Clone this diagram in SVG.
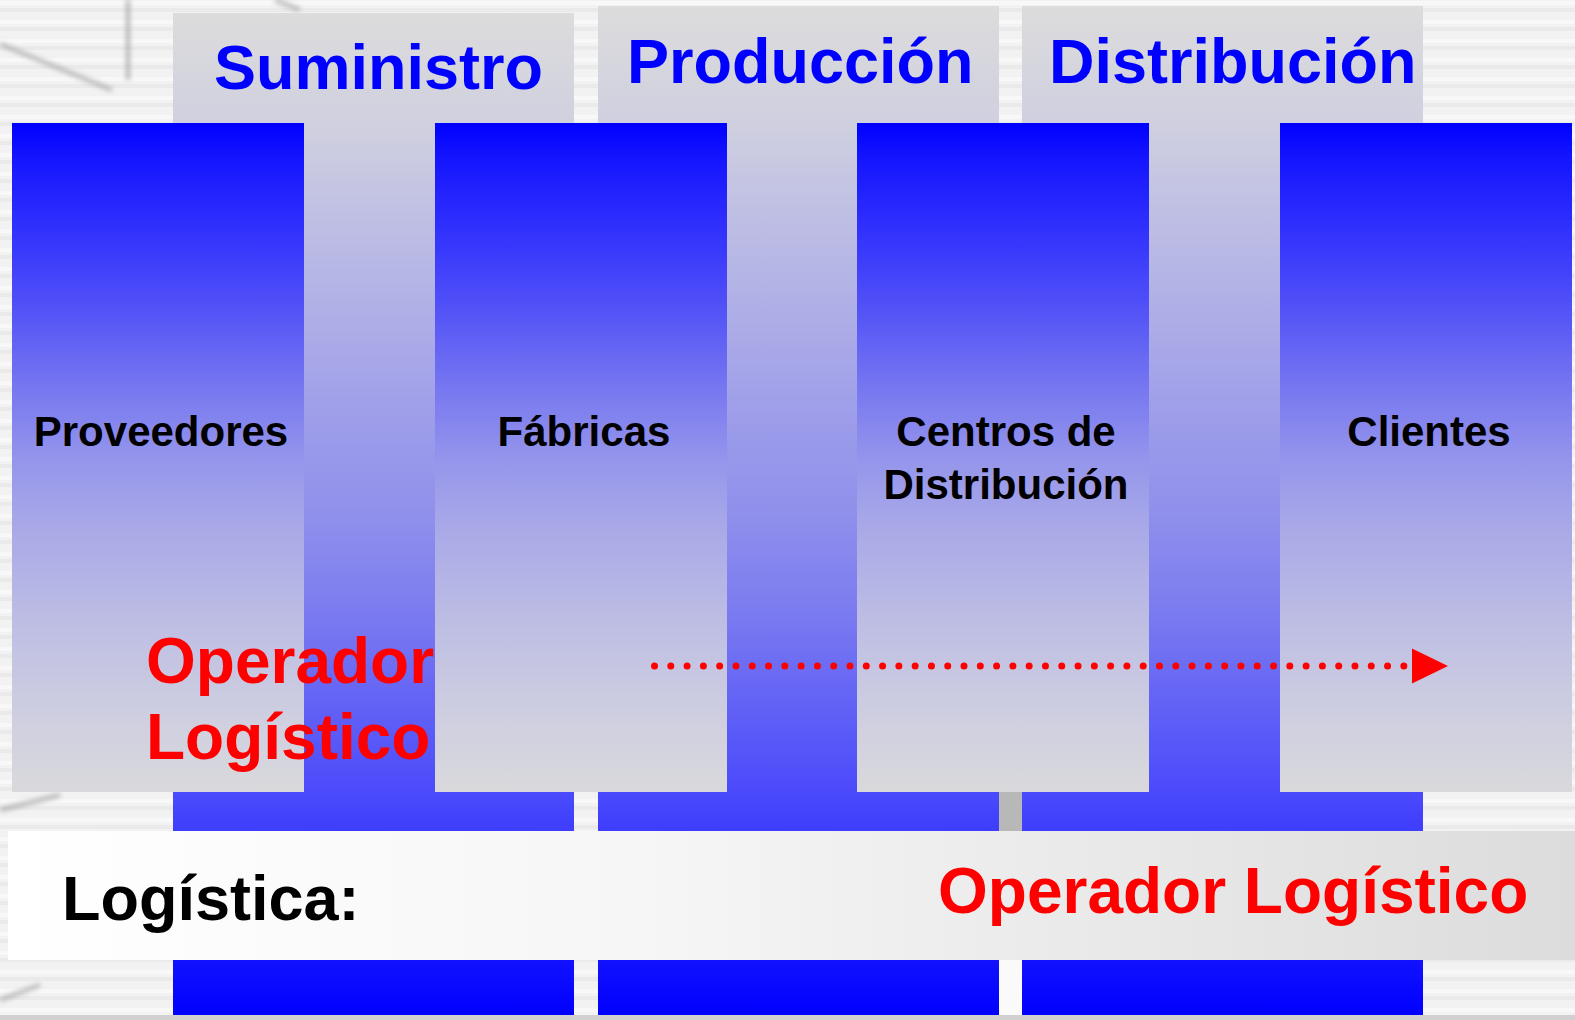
<svg xmlns="http://www.w3.org/2000/svg" width="1575" height="1020" viewBox="0 0 1575 1020">
  <defs>
    <pattern id="stripes" x="0" y="0" width="1575" height="19" patternUnits="userSpaceOnUse">
      <rect width="1575" height="19" fill="#f2f2f2"/>
      <rect y="8" width="1575" height="4" fill="#eaeaea"/>
      <rect y="1" width="1575" height="4" fill="#f8f8f8"/>
    </pattern>
    <filter id="blur" x="-20%" y="-20%" width="140%" height="140%">
      <feGaussianBlur stdDeviation="2.5"/>
    </filter>
    <linearGradient id="gWide" x1="0" y1="0" x2="0" y2="1">
      <stop offset="0" stop-color="#dcdcdc"/>
      <stop offset="0.12" stop-color="#cfcfe0"/>
      <stop offset="0.2" stop-color="#c0c0e4"/>
      <stop offset="0.4" stop-color="#9e9eea"/>
      <stop offset="0.5" stop-color="#9090ec"/>
      <stop offset="0.6" stop-color="#7b7bf0"/>
      <stop offset="0.78" stop-color="#4a4afc"/>
      <stop offset="0.95" stop-color="#1010ff"/>
      <stop offset="1" stop-color="#0000ff"/>
    </linearGradient>
    <linearGradient id="gNarrow" x1="0" y1="0" x2="0" y2="1">
      <stop offset="0" stop-color="#0000ff"/>
      <stop offset="0.05" stop-color="#1414ff"/>
      <stop offset="0.2" stop-color="#3c3cfc"/>
      <stop offset="0.27" stop-color="#5050f8"/>
      <stop offset="0.4" stop-color="#7878f0"/>
      <stop offset="0.5" stop-color="#9494ec"/>
      <stop offset="0.6" stop-color="#a8a8e8"/>
      <stop offset="0.75" stop-color="#bebee4"/>
      <stop offset="0.9" stop-color="#d0d0e0"/>
      <stop offset="1" stop-color="#d9d9dc"/>
    </linearGradient>
    <linearGradient id="gBar" x1="0" y1="0" x2="1" y2="0">
      <stop offset="0" stop-color="#ffffff"/>
      <stop offset="0.4" stop-color="#f6f6f6"/>
      <stop offset="1" stop-color="#dcdcdc"/>
    </linearGradient>
    <marker id="arrowHead" markerUnits="userSpaceOnUse" orient="auto" overflow="visible" refX="0" refY="0" markerWidth="50" markerHeight="40">
      <path d="M8,-17.5 L44,0 L8,17.5 Z" fill="#ff0000"/>
    </marker>
    <style>
      .wide { fill: url(#gWide); }
      .narrow { fill: url(#gNarrow); }
      .head { font-family: "Liberation Sans", Arial, sans-serif; font-weight: bold; font-size: 63px; fill: #0000ff; }
      .lbl { font-family: "Liberation Sans", Arial, sans-serif; font-weight: bold; font-size: 42px; fill: #000000; text-anchor: middle; }
      .red { font-family: "Liberation Sans", Arial, sans-serif; font-weight: bold; font-size: 64px; fill: #ff0000; }
      .blk { font-family: "Liberation Sans", Arial, sans-serif; font-weight: bold; font-size: 63px; fill: #000000; }
    </style>
  </defs>

  <!-- background -->
  <g id="background">
    <rect width="1575" height="1020" fill="url(#stripes)"/>
    <g filter="url(#blur)" stroke="#b0b0b0" stroke-width="4" fill="none">
      <line x1="0" y1="44" x2="112" y2="90"/>
      <line x1="128" y1="0" x2="128" y2="80"/>
      <line x1="275" y1="0" x2="300" y2="10"/>
      <line x1="0" y1="810" x2="60" y2="795"/>
      <line x1="0" y1="1000" x2="40" y2="985"/>
    </g>
    <rect x="999" y="792" width="23" height="39" fill="#b8b8b8"/>
    <rect x="999" y="960" width="23" height="55" fill="#fafafa"/>
    <rect x="0" y="1015" width="1575" height="5" fill="#d0d0d0"/>
  </g>

  <!-- stage columns -->
  <g id="suministro">
    <rect class="wide" x="173" y="13" width="401" height="1002"/>
    <text class="head" x="214" y="89">Suministro</text>
  </g>
  <g id="produccion">
    <rect class="wide" x="598" y="6" width="401" height="1009"/>
    <text class="head" x="627" y="83">Producción</text>
  </g>
  <g id="distribucion">
    <rect class="wide" x="1022" y="6" width="401" height="1009"/>
    <text class="head" x="1049" y="83">Distribución</text>
  </g>

  <!-- actor columns -->
  <g id="proveedores">
    <rect class="narrow" x="12" y="123" width="292" height="669"/>
    <text class="lbl" x="161" y="446">Proveedores</text>
  </g>
  <g id="fabricas">
    <rect class="narrow" x="435" y="123" width="292" height="669"/>
    <text class="lbl" x="584" y="446">Fábricas</text>
  </g>
  <g id="centros">
    <rect class="narrow" x="857" y="123" width="292" height="669"/>
    <text class="lbl" x="1006" y="446">Centros de</text>
    <text class="lbl" x="1006" y="499">Distribución</text>
  </g>
  <g id="clientes">
    <rect class="narrow" x="1280" y="123" width="292" height="669"/>
    <text class="lbl" x="1429" y="446">Clientes</text>
  </g>

  <!-- operador label -->
  <g id="operador">
    <text class="red" x="146" y="683">Operador</text>
    <text class="red" x="146" y="759">Logístico</text>
  </g>

  <!-- connectors -->
  <g id="connectors">
    <line x1="654.5" y1="666" x2="1404" y2="666" stroke="#ff0000" stroke-width="7" stroke-linecap="round" stroke-dasharray="0 16.29" marker-end="url(#arrowHead)"/>
  </g>

  <!-- logistics bar -->
  <g id="logistica">
    <rect x="8" y="831" width="1567" height="129" fill="url(#gBar)"/>
    <text class="blk" x="62" y="920">Logística:</text>
    <text class="red" x="938" y="913">Operador Logístico</text>
  </g>
</svg>
